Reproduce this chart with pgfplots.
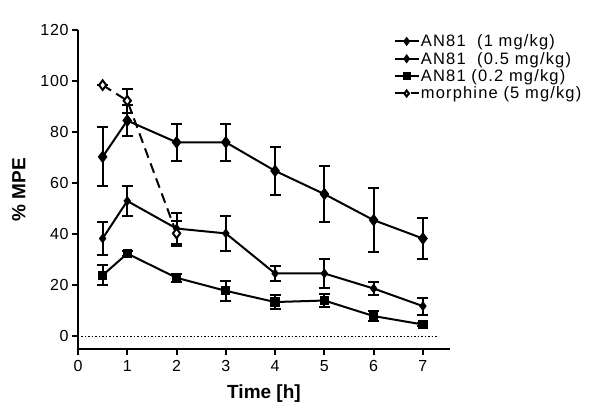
\documentclass[border=0pt]{standalone}
\usepackage{pgfplots}
\pgfplotsset{compat=1.18}
\usepackage{fontspec}
\setmainfont{Liberation Sans}
\begin{document}
\begin{tikzpicture}[x=1pt,y=1pt]
\useasboundingbox (-78,-64) rectangle (532,349);
\begin{axis}[
  at={(0,0)}, anchor=south west,
  scale only axis, width=372pt, height=319pt,
  xmin=0, xmax=7.55, ymin=-5, ymax=120,
  axis lines*=left,
  axis line style={line width=2pt, black},
  tick align=outside, major tick length=6pt,
  tick style={line width=2pt, black},
  xtick={0,1,...,7}, ytick={0,20,...,120},
  ticklabel style={font=\fontsize{16}{16}\selectfont\addfontfeature{LetterSpace=4}},
  xticklabel style={yshift=-2pt},
  /pgf/number format/assume math mode=true,
  xlabel={\bfseries Time [h]},
  ylabel={\bfseries \% MPE},
  xlabel style={yshift=-6pt},
  ylabel style={yshift=8pt},
  label style={font=\fontsize{19}{19}\selectfont},
  legend style={at={(0.848,0.99)}, anchor=north west, draw=none, fill=none,
    font=\fontsize{16.5}{17.5}\selectfont\addfontfeature{LetterSpace=7}, row sep=1.3pt,
    inner sep=0pt, nodes={inner sep=1.3pt}},
  legend cell align=left,
  legend image code/.code={\draw[mark repeat=2,mark phase=2,#1,mark size=3pt] plot coordinates {(0pt,0pt)(12pt,0pt)(24pt,0pt)};},
  clip=false,
]
\addplot[forget plot, black, line width=1.3pt, dash pattern=on 1.5pt off 2pt] coordinates {(0,0)(7.3,0)};
\addplot[black, line width=2pt, mark=diamond*, mark size=4.8pt, mark options={solid,fill=black},
  error bars/.cd, y dir=both, y explicit, error bar style={line width=2pt, solid},
  error mark options={rotate=90, mark size=5.5pt, line width=2pt}]
  coordinates {(0.5,70.3) +- (0,11.5) (1,84.5) +- (0,6) (2,76) +- (0,7.3) (3,76) +- (0,7.3)
  (4,64.8) +- (0,9.5) (5,55.7) +- (0,11) (6,45.5) +- (0,12.5) (7,38.3) +- (0,8)};
\addlegendentry{AN81\ \ (1 mg/kg)}
\addplot[black, line width=2pt, mark=diamond*, mark size=3.4pt, mark options={solid,fill=black},
  error bars/.cd, y dir=both, y explicit, error bar style={line width=2pt, solid},
  error mark options={rotate=90, mark size=5.5pt, line width=2pt}]
  coordinates {(0.5,38.3) +- (0,6.5) (1,53) +- (0,6) (2,42.2) +- (0,6) (3,40.3) +- (0,7)
  (4,24.6) +- (0,3) (5,24.6) +- (0,5.7) (6,18.7) +- (0,2.5) (7,11.8) +- (0,3.3)};
\addlegendentry{AN81\ \ (0.5 mg/kg)}
\addplot[black, line width=2pt, mark=square*, mark size=3.6pt, mark options={solid,fill=black},
  error bars/.cd, y dir=both, y explicit, error bar style={line width=2pt, solid},
  error mark options={rotate=90, mark size=5.5pt, line width=2pt}]
  coordinates {(0.5,23.9) +- (0,3.9) (1,32.4) +- (0,1) (2,22.9) +- (0,1.5) (3,17.8) +- (0,3.9)
  (4,13.4) +- (0,2.8) (5,14) +- (0,2.7) (6,7.9) +- (0,2) (7,4.6) +- (0,0.5)};
\addlegendentry{AN81 (0.2 mg/kg)}
\addplot[black, line width=2pt, dash pattern=on 10pt off 6pt, mark=diamond*, mark size=4.8pt, mark options={solid,fill=white},
  error bars/.cd, y dir=both, y explicit, error bar style={line width=2pt, solid},
  error mark options={rotate=90, mark size=5.5pt, line width=2pt}]
  coordinates {(0.5,98.4) +- (0,0) (1,92.3) +- (0,4.7) (2,40.3) +- (0,5)};
\addlegendentry{morphine (5 mg/kg)}
\end{axis}
\end{tikzpicture}
\end{document}
